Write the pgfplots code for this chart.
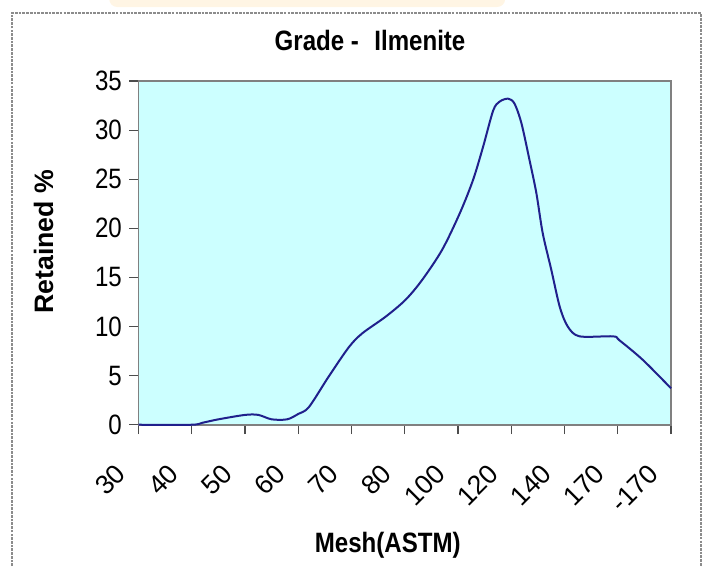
\documentclass[border=0pt]{standalone}
\usepackage{fontspec}
\setmainfont{Liberation Sans}[FakeStretch=0.86]
\newfontfamily\rotfont{Liberation Sans}
\usepackage{pgfplots}
\pgfplotsset{compat=1.18}
\usetikzlibrary{calc}

\definecolor{plotbg}{RGB}{204,255,255}
\definecolor{curve}{RGB}{32,32,140}
\definecolor{framegray}{RGB}{128,128,128}
\definecolor{outergray}{RGB}{140,140,140}
\definecolor{glow}{RGB}{255,245,228}

\begin{document}
\begin{tikzpicture}
	\begin{axis}[
	scale only axis,
	width=399.4pt, height=257.8pt,
	xmin=0, xmax=10, ymin=0, ymax=35,
	xtick={0,1,...,10},
	xticklabels={30,40,50,60,70,80,100,120,140,170,-170},
	ytick={0,5,...,35},
	tick pos=left,
	tick align=outside,
	major tick length=7pt,
	tick style={color=black!70, line width=0.9pt},
	axis line style={color=framegray, line width=1.3pt},
	axis background/.style={fill=plotbg},
	clip=false,
	/pgf/number format/assume math mode=true,
	yticklabel style={font=\fontsize{21}{24}\selectfont, xshift=-2pt},
	xticklabel style={font=\rotfont\fontsize{20}{24}\selectfont, xshift=-11pt, yshift=-24pt, rotate=45, anchor=east},
	title={Grade -\hspace{0.55em}Ilmenite},
	title style={font=\bfseries\fontsize{21}{24}\selectfont, at={(axis description cs:0.4347,1.0669)}, anchor=base},
	xlabel={Mesh(ASTM)},
	xlabel style={font=\bfseries\fontsize{21}{24}\selectfont, at={(axis description cs:0.468,-0.3724)}, anchor=base},
	ylabel={Retained \%},
	ylabel style={font=\rotfont\bfseries\fontsize{20}{24}\selectfont, at={(axis description cs:-0.1606,0.532)}, anchor=base},
	]
	
	\addplot[color=curve, line width=1.5pt, smooth, tension=0.5] table {
		x y
		0 0
		1 0
		1.2 0.2
		1.5 0.55
		2.0 1.0
		2.25 1.0
		2.5 0.55
		2.79 0.55
		3.0 1.1
		3.2 1.8
		3.57 4.9
		3.95 7.9
		4.2 9.3
		4.64 11.0
		5.01 12.7
		5.32 14.7
		5.7 17.8
		6.03 21.5
		6.28 24.9
		6.47 28.3
		6.66 32.0
		6.78 32.9
		6.94 33.2
		7.06 32.7
		7.19 30.7
		7.34 27.0
		7.47 23.6
		7.59 19.5
		7.75 15.8
		7.91 12.0
		8.06 10.0
		8.28 9.0
		8.91 9.0
		9.03 8.6
		9.47 6.6
		10 3.7
	};
	
	\end{axis}
	
	% outer chart frame and the faint glow above it
	\draw[outergray, line width=1.5pt, dash pattern=on 2pt off 0.8pt]
	($(current axis.south west)+(-95.25pt,-120pt)$) |- ($(current axis.north east)+(22.5pt,50.8pt)$) -- ++(0,-420pt);
	\fill[glow, rounded corners=6pt]
	($(current axis.north west)+(-22pt,55.5pt)$) rectangle ($(current axis.north west)+(275pt,68pt)$);
	
	\pgfresetboundingbox
	\path[use as bounding box] ($(current axis.south west)+(-103.9pt,-106.7pt)$) rectangle ++(530.25pt,425.25pt);
\end{tikzpicture}
\end{document}
